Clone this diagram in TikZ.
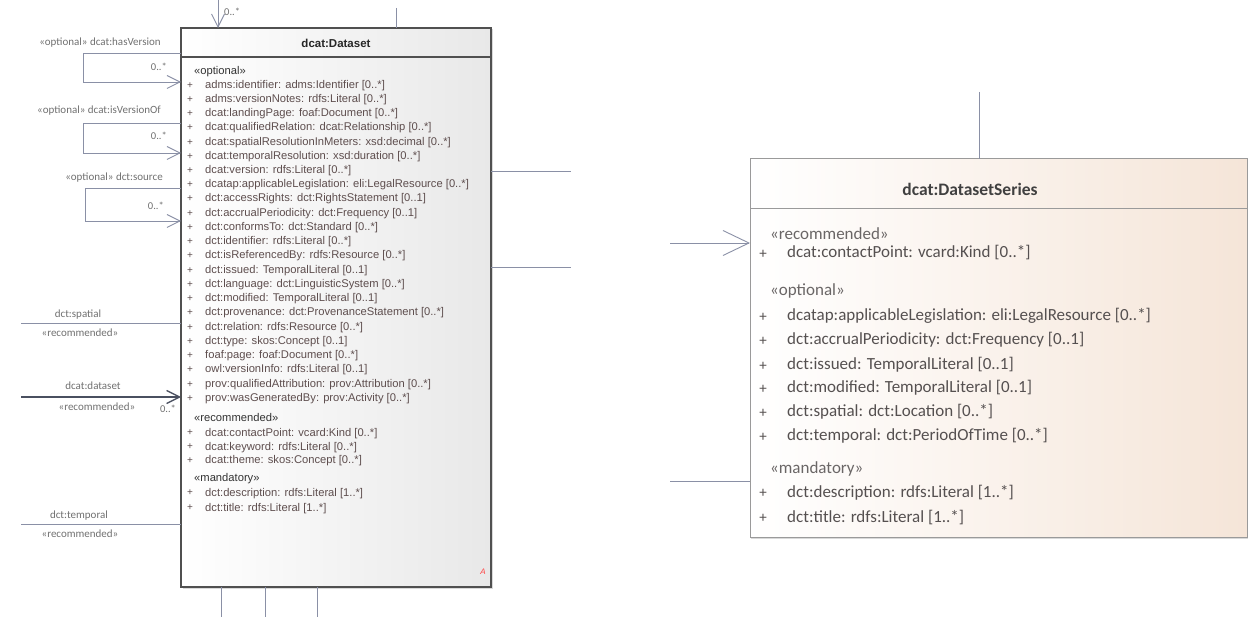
\documentclass[tikz,border=0pt]{standalone}
\usepackage{fontspec}
\setmainfont{Liberation Sans}
\newfontfamily\calibri{Carlito}
\usetikzlibrary{arrows.meta,shadows}

\definecolor{connc}{HTML}{8A90A6}
\definecolor{conndark}{HTML}{4A5060}
\definecolor{attrtxt}{HTML}{5E4E4E}
\definecolor{lbltxt}{HTML}{707070}
\definecolor{serietxt}{HTML}{555050}
\definecolor{sterotxt}{HTML}{6A6666}
\definecolor{peach}{HTML}{F5E5D8}
\definecolor{dsborder}{HTML}{505050}
\definecolor{ssborder}{HTML}{9A9A9A}

\begin{document}
\begin{tikzpicture}[x=1pt,y=-1pt,
  dsbox/.style={draw=dsborder, line width=1.3pt, outer sep=0pt, inner sep=0pt,
    left color=white, right color=black!9,
    drop shadow={shadow xshift=1.5pt, shadow yshift=-1.5pt, opacity=0.3}},
  ssbox/.style={draw=ssborder, line width=1pt, outer sep=0pt, inner sep=0pt,
    left color=white, right color=peach,
    drop shadow={shadow xshift=1pt, shadow yshift=-2pt, opacity=0.3}},
  attr/.style={anchor=west, inner sep=0pt, font=\fontsize{11.2}{12}\selectfont,
    text=attrtxt, text height=8.5pt, text depth=2.5pt},
  stereo/.style={attr, text=black!80},
  plus/.style={inner sep=0pt, font=\fontsize{10}{11}\selectfont, text=attrtxt},
  lbl/.style={inner sep=0pt, font=\calibri\fontsize{11}{12}\selectfont, text=lbltxt,
    text height=8pt, text depth=2.5pt},
  mult/.style={lbl, font=\calibri\fontsize{10.5}{11}\selectfont},
  sattr/.style={anchor=west, inner sep=0pt, font=\calibri\fontsize{17}{19}\selectfont,
    text=serietxt, text height=12pt, text depth=4pt},
  sstereo/.style={sattr, text=sterotxt},
  splus/.style={inner sep=0pt, font=\calibri\fontsize{15}{17}\selectfont, text=serietxt},
  conn/.style={draw=connc, line width=0.9pt},
  barb/.style={-{Straight Barb[length=13pt,width=13pt]}},
  bigbarb/.style={-{Straight Barb[length=26pt,width=25pt]}}
]
\useasboundingbox (0,0) rectangle (1248,617);

% ---------------- dcat:Dataset class ----------------
\node[dsbox, minimum width=310pt, minimum height=559pt, anchor=north west] (ds) at (181,28) {};
\node[inner sep=0pt, font=\bfseries\fontsize{11.5}{13}\selectfont, text=black!85] (dstitle) at (336,43) {dcat:Dataset};
\coordinate (dshl) at (181,57);
\coordinate (dshr) at (491,57);
\draw[draw=dsborder, line width=1.1pt] (dshl) -- (dshr);

\node[stereo] (dsopt) at (194,72) {«optional»};
\foreach \yy/\tt [count=\i] in {
  86/adms:identifier: adms:Identifier [0..*],
  100/adms:versionNotes: rdfs:Literal [0..*],
  114/dcat:landingPage: foaf:Document [0..*],
  128/dcat:qualifiedRelation: dcat:Relationship [0..*],
  143/dcat:spatialResolutionInMeters: xsd:decimal [0..*],
  157/dcat:temporalResolution: xsd:duration [0..*],
  171/dcat:version: rdfs:Literal [0..*],
  185/dcatap:applicableLegislation: eli:LegalResource [0..*],
  199/dct:accessRights: dct:RightsStatement [0..1],
  214/dct:accrualPeriodicity: dct:Frequency [0..1],
  228/dct:conformsTo: dct:Standard [0..*],
  242/dct:identifier: rdfs:Literal [0..*],
  256/dct:isReferencedBy: rdfs:Resource [0..*],
  271/dct:issued: TemporalLiteral [0..1],
  285/dct:language: dct:LinguisticSystem [0..*],
  299/dct:modified: TemporalLiteral [0..1],
  313/dct:provenance: dct:ProvenanceStatement [0..*],
  328/dct:relation: rdfs:Resource [0..*],
  342/dct:type: skos:Concept [0..1],
  356/foaf:page: foaf:Document [0..*],
  370/owl:versionInfo: rdfs:Literal [0..1],
  385/prov:qualifiedAttribution: prov:Attribution [0..*],
  399/prov:wasGeneratedBy: prov:Activity [0..*]} {
  \node[plus] (dsop\i) at (190,\yy) {+};
  \node[attr] (dso\i) at (205,\yy) {\tt};
}
\node[stereo] (dsrec) at (194,418) {«recommended»};
\foreach \yy/\tt [count=\i] in {
  433/dcat:contactPoint: vcard:Kind [0..*],
  447/dcat:keyword: rdfs:Literal [0..*],
  461/dcat:theme: skos:Concept [0..*]} {
  \node[plus] (dsrp\i) at (190,\yy) {+};
  \node[attr] (dsr\i) at (205,\yy) {\tt};
}
\node[stereo] (dsman) at (194,479) {«mandatory»};
\foreach \yy/\tt [count=\i] in {
  493/dct:description: rdfs:Literal [1..*],
  508/dct:title: rdfs:Literal [1..*]} {
  \node[plus] (dsmp\i) at (190,\yy) {+};
  \node[attr] (dsm\i) at (205,\yy) {\tt};
}
\node[inner sep=0pt, font=\itshape\fontsize{8}{9}\selectfont, text=red!75] (dsabs) at (483,572) {A};

% ---------------- dcat:Dataset connectors ----------------
% incoming association at the top
\coordinate (topin) at (218,0);
\draw[conn, barb] (topin) -- (topin |- ds.north);
\node[mult, anchor=west] (topmult) at (224,13) {0..*};
\coordinate (topout) at (396,8);
\draw[conn] (topout) -- (topout |- ds.north);

% self associations on the left
\coordinate (hv1) at (83,53);
\coordinate (hv2) at (83,82);
\draw[conn, barb] (ds.west |- hv1) -- (hv1) -- (hv2) -- (ds.west |- hv2);
\node[lbl, anchor=east] (hvlbl) at (161,43) {«optional» dcat:hasVersion};
\node[mult, anchor=east] (hvmult) at (167,68) {0..*};

\coordinate (iv1) at (83,123);
\coordinate (iv2) at (83,153);
\draw[conn, barb] (ds.west |- iv1) -- (iv1) -- (iv2) -- (ds.west |- iv2);
\node[lbl, anchor=east] (ivlbl) at (161,111) {«optional» dcat:isVersionOf};
\node[mult, anchor=east] (ivmult) at (167,137) {0..*};

\coordinate (sr1) at (85,188);
\coordinate (sr2) at (85,221);
\draw[conn, barb] (ds.west |- sr1) -- (sr1) -- (sr2) -- (ds.west |- sr2);
\node[lbl, anchor=east] (srlbl) at (163,178) {«optional» dct:source};
\node[mult, anchor=east] (srmult) at (164,207) {0..*};

% plain associations from the left
\coordinate (spfree) at (21,323);
\draw[conn] (spfree) -- (ds.west |- spfree);
\node[lbl] (splbl) at (78,315) {dct:spatial};
\node[lbl] (spst) at (80,334) {«recommended»};

\coordinate (dafree) at (21,397);
\draw[draw=conndark, line width=1.3pt, barb] (dafree) -- (ds.west |- dafree);
\node[lbl] (dalbl) at (93,387) {dcat:dataset};
\node[lbl] (dast) at (97,408) {«recommended»};
\node[mult] (damult) at (168,410) {0..*};

\coordinate (tpfree) at (21,524);
\draw[conn] (tpfree) -- (ds.west |- tpfree);
\node[lbl] (tplbl) at (79,516) {dct:temporal};
\node[lbl] (tpst) at (80,535) {«recommended»};

% associations leaving on the right
\coordinate (rt1) at (571,171);
\coordinate (rt2) at (571,267);
\draw[conn] (ds.east |- rt1) -- (rt1);
\draw[conn] (ds.east |- rt2) -- (rt2);

% associations leaving at the bottom
\coordinate (bt1) at (221,617);
\coordinate (bt2) at (265,617);
\coordinate (bt3) at (317,617);
\foreach \c in {bt1,bt2,bt3} \draw[conn] (\c |- ds.south) -- (\c);

% ---------------- dcat:DatasetSeries class ----------------
\node[ssbox, minimum width=497pt, minimum height=378pt, anchor=north west] (dss) at (750,159) {};
\node[inner sep=0pt, font=\calibri\bfseries\fontsize{17.5}{19}\selectfont, text=black!75] (dsstitle) at (970,189) {dcat:DatasetSeries};
\coordinate (sshl) at (750,209);
\coordinate (sshr) at (1247,209);
\draw[draw=ssborder, line width=1pt] (sshl) -- (sshr);

\node[sstereo] (ssrec) at (770,236) {«recommended»};
\node[splus] (ssrp1) at (763,254) {+};
\node[sattr] (ssr1) at (787,254) {dcat:contactPoint: vcard:Kind [0..*]};
\node[sstereo] (ssopt) at (770,292) {«optional»};
\foreach \yy/\tt [count=\i] in {
  317/dcatap:applicableLegislation: eli:LegalResource [0..*],
  341/dct:accrualPeriodicity: dct:Frequency [0..1],
  366/dct:issued: TemporalLiteral [0..1],
  389/dct:modified: TemporalLiteral [0..1],
  413/dct:spatial: dct:Location [0..*],
  437/dct:temporal: dct:PeriodOfTime [0..*]} {
  \node[splus] (ssop\i) at (763,\yy) {+};
  \node[sattr] (sso\i) at (787,\yy) {\tt};
}
\node[sstereo] (ssman) at (770,469) {«mandatory»};
\foreach \yy/\tt [count=\i] in {
  493/dct:description: rdfs:Literal [1..*],
  518/dct:title: rdfs:Literal [1..*]} {
  \node[splus] (ssmp\i) at (763,\yy) {+};
  \node[sattr] (ssm\i) at (787,\yy) {\tt};
}

% ---------------- dcat:DatasetSeries connectors ----------------
\coordinate (sstop) at (979,92);
\draw[conn] (sstop) -- (sstop |- dss.north);
\coordinate (ssin) at (670,243);
\draw[conn, bigbarb] (ssin) -- (dss.west |- ssin);
\coordinate (ssleft) at (670,481);
\draw[conn] (ssleft) -- (dss.west |- ssleft);
\end{tikzpicture}
\end{document}
